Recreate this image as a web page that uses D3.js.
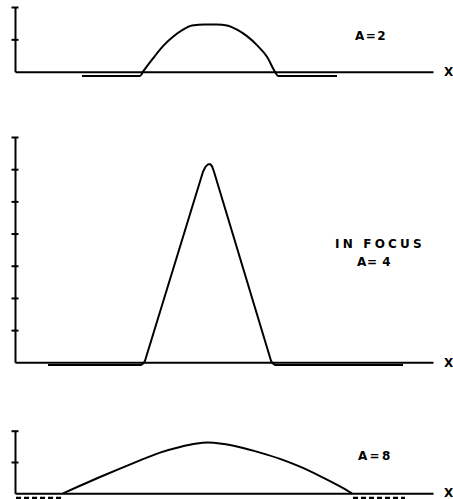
<!DOCTYPE html>
<html>
<head>
<meta charset="utf-8">
<script src="https://cdn.jsdelivr.net/npm/d3@7"></script>
<style>
  html, body { margin: 0; padding: 0; background: #fff; }
  svg { display: block; }
  .lbl { font-family: "DejaVu Sans", sans-serif; font-weight: bold; font-size: 12px; fill: #000; }
  .axis path, .axis line { stroke: #000; stroke-width: 2; }
</style>
</head>
<body>
<svg id="chart" width="453" height="499"></svg>
<script>
// Horizontal extent of every x axis (position across the image plane, centre at 0)
const xExtent = [-9.7, 11.2];

// Y-axis tick values for each aperture
const ticksA2 = [1, 2];
const ticksA4 = [1, 2, 3, 4, 5, 6, 7];
const ticksA8 = [1, 2];

// Intensity profiles [x, intensity], including the weak negative side lobes
const profileA2 = [
  [-6.35, -0.13], [-3.45, -0.13], [-3.3, 0], [-2.8, 0.41], [-2.3, 0.79], [-1.8, 1.08],
  [-1.3, 1.30], [-0.85, 1.43], [-0.2, 1.46], [0.4, 1.46], [0.9, 1.43], [1.4, 1.30],
  [1.9, 1.10], [2.4, 0.82], [2.9, 0.46], [3.3, 0], [3.45, -0.13], [6.4, -0.13]
];
const profileA4 = [
  [-8.05, -0.08], [-3.4, -0.08], [-3.27, -0.03], [-3.2, 0.05], [-0.3, 5.92], [-0.17, 6.08],
  [-0.05, 6.15], [0.08, 6.15], [0.16, 6.08], [0.25, 5.92], [3.1, 0.05], [3.18, -0.03],
  [3.3, -0.08], [9.7, -0.08]
];
const profileA8 = [
  [-7.3, 0], [-6.45, 0.24], [-5.45, 0.52], [-4.45, 0.79], [-3.45, 1.05], [-2.45, 1.30],
  [-1.45, 1.48], [-0.7, 1.58], [-0.05, 1.62], [0.65, 1.58], [1.55, 1.47], [2.55, 1.30],
  [3.55, 1.10], [4.55, 0.85], [5.55, 0.55], [6.55, 0.22], [7.15, 0]
];
// Side lobes of the A=8 profile, drawn broken
const lobesA8 = [
  [[-9.65, -0.15], [-7.35, -0.15]],
  [[7.2, -0.15], [9.8, -0.15]]
];

// Panel captions
const labelsA2 = ["A=2"];
const labelsA4 = ["IN FOCUS", "A= 4"];
const labelsA8 = ["A=8"];
const axisName = "X";

const svg = d3.select("#chart");

const x = d3.scaleLinear().domain(xExtent).range([15, 433]);

const panels = [
  { profile: profileA2, ticks: ticksA2, lobes: [], labels: labelsA2, curve: d3.curveMonotoneX,
    yRange: [71.7, 7], labelPos: [[355, 39.5, 1.5]] },
  { profile: profileA4, ticks: ticksA4, lobes: [], labels: labelsA4, curve: d3.curveLinear,
    yRange: [362.3, 137], labelPos: [[335, 248, 3.2], [357, 265.5, 0.6]] },
  { profile: profileA8, ticks: ticksA8, lobes: lobesA8, labels: labelsA8, curve: d3.curveMonotoneX,
    yRange: [493.3, 430.7], labelPos: [[358, 460, 2.3]] }
];

panels.forEach(p => {
  const y = d3.scaleLinear().domain([0, d3.max(p.ticks)]).range(p.yRange);
  const g = svg.append("g");

  // x axis: a bare line along zero intensity
  g.append("g")
    .attr("class", "axis")
    .attr("transform", `translate(0,${y(0)})`)
    .call(d3.axisBottom(x).tickValues([]).tickSizeOuter(0));

  // y axis with short cross ticks
  const ya = g.append("g")
    .attr("class", "axis")
    .attr("transform", `translate(${x(xExtent[0])},0)`)
    .call(d3.axisLeft(y).tickValues(p.ticks).tickSize(3.5).tickSizeOuter(0).tickFormat(""));
  ya.selectAll(".tick line").attr("x1", 3.5);

  const line = d3.line()
    .x(d => x(d[0]))
    .y(d => y(d[1]))
    .curve(p.curve);

  g.append("path")
    .datum(p.profile)
    .attr("d", line)
    .attr("fill", "none")
    .attr("stroke", "#000")
    .attr("stroke-width", 2)
    .attr("stroke-linejoin", "round");

  p.lobes.forEach(seg => {
    g.append("path")
      .datum(seg)
      .attr("d", d3.line().x(d => x(d[0])).y(d => y(d[1])))
      .attr("fill", "none")
      .attr("stroke", "#000")
      .attr("stroke-width", 2.5)
      .attr("stroke-dasharray", "5,3");
  });

  p.labels.forEach((t, i) => {
    const [lx, ly, ls] = p.labelPos[i];
    g.append("text")
      .attr("class", "lbl")
      .attr("x", lx)
      .attr("y", ly)
      .attr("letter-spacing", ls)
      .text(t);
  });

  g.append("text")
    .attr("class", "lbl")
    .attr("x", 444)
    .attr("y", Math.min(y(0) + 4.5, 497))
    .text(axisName);
});
</script>
</body>
</html>
